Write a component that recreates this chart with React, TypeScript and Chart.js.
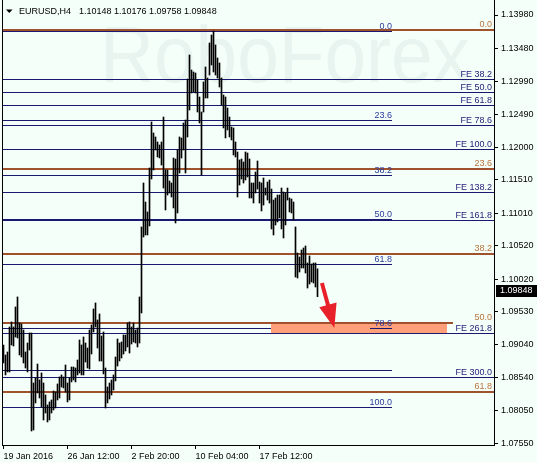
import React, { useEffect, useRef } from 'react';
import { Chart, registerables } from 'chart.js';

Chart.register(...registerables);

// ---------- data ----------
const symbolLabel = 'EURUSD,H4';
const lastOpen = 1.10148;
const lastHigh = 1.10176;
const lastLow = 1.09758;
const lastClose = 1.09848;

const barHighs = [
  1.09034, 1.08884, 1.08929, 1.09304, 1.09379, 1.09304, 1.09604, 1.09754, 1.09364, 1.09349,
  1.09259, 1.08929, 1.09064, 1.09214, 1.09214, 1.08465, 1.0854, 1.08749, 1.0851, 1.08615,
  1.08465, 1.08285, 1.08135, 1.0818, 1.0821, 1.08345, 1.0833, 1.0845, 1.08555, 1.08585,
  1.08555, 1.08734, 1.08465, 1.0854, 1.08704, 1.08704, 1.08689, 1.08809, 1.09109, 1.09034,
  1.09154, 1.09064, 1.08989, 1.09259, 1.09334, 1.09574, 1.09664, 1.09409, 1.09499, 1.09169,
  1.09229, 1.08689, 1.08405, 1.08465, 1.0851, 1.08585, 1.08854, 1.09124, 1.09064, 1.09079,
  1.09184, 1.09184, 1.09364, 1.09379, 1.09304, 1.09364, 1.09259, 1.09289, 1.09754, 1.10803,
  1.11462, 1.11177, 1.11028, 1.11687, 1.12377, 1.12212, 1.12152, 1.12077, 1.12032, 1.12077,
  1.12451, 1.11657, 1.11657, 1.11492, 1.11462, 1.11837, 1.11822, 1.11957, 1.12152, 1.12137,
  1.12362, 1.12406, 1.13021, 1.13381, 1.13156, 1.13126, 1.13111, 1.13006, 1.12751, 1.12526,
  1.12976, 1.13201, 1.13036, 1.13561, 1.1368, 1.1374, 1.13531, 1.13336, 1.13261, 1.13036,
  1.12781, 1.12751, 1.12586, 1.12451, 1.12302, 1.12287, 1.12077, 1.11927, 1.11807, 1.11822,
  1.11777, 1.11927, 1.11912, 1.11822, 1.11462, 1.11462, 1.11627, 1.11792, 1.11477, 1.11462,
  1.11537, 1.11387, 1.11477, 1.11507, 1.11372, 1.11207, 1.11237, 1.11282, 1.11282, 1.11387,
  1.11327, 1.11312, 1.11387, 1.11237, 1.11222, 1.11177, 1.10803, 1.10413, 1.10353, 1.10458,
  1.10488, 1.10518, 1.10263, 1.10368, 1.10248, 1.10263, 1.10263, lastHigh,
];

const barLows = [
  1.08764, 1.08585, 1.0863, 1.0863, 1.09034, 1.09019, 1.09154, 1.09139, 1.08884, 1.08854,
  1.08764, 1.08689, 1.0863, 1.08959, 1.07745, 1.0776, 1.08165, 1.08315, 1.0824, 1.08105,
  1.0791, 1.08015, 1.0788, 1.0791, 1.08015, 1.0806, 1.0809, 1.0821, 1.0824, 1.08405,
  1.0839, 1.0833, 1.0818, 1.0821, 1.0848, 1.0851, 1.0848, 1.08585, 1.08615, 1.08585,
  1.08585, 1.08779, 1.08689, 1.08674, 1.08899, 1.09229, 1.09304, 1.08989, 1.08794, 1.08794,
  1.086, 1.0809, 1.08165, 1.08225, 1.08285, 1.0836, 1.08495, 1.08719, 1.08794, 1.08839,
  1.08899, 1.08944, 1.09004, 1.08914, 1.09049, 1.09079, 1.09064, 1.09004, 1.09064, 1.09514,
  1.10653, 1.10683, 1.10683, 1.10818, 1.11522, 1.11657, 1.11957, 1.11852, 1.11837, 1.11732,
  1.11387, 1.11058, 1.11282, 1.11312, 1.11252, 1.11088, 1.10863, 1.11013, 1.11612, 1.11837,
  1.11957, 1.11612, 1.12152, 1.12556, 1.12811, 1.12826, 1.12811, 1.12526, 1.12362, 1.11582,
  1.12526, 1.12736, 1.12736, 1.13081, 1.13231, 1.13126, 1.13081, 1.13036, 1.12901, 1.12631,
  1.12287, 1.12137, 1.12257, 1.12152, 1.12107, 1.11882, 1.11852, 1.11252, 1.11432, 1.11522,
  1.11462, 1.11507, 1.11552, 1.11237, 1.11237, 1.11162, 1.11312, 1.11372, 1.11162, 1.11043,
  1.11132, 1.11282, 1.11207, 1.11162, 1.10773, 1.10683, 1.10833, 1.10878, 1.10938, 1.10773,
  1.10638, 1.10833, 1.11207, 1.11028, 1.11013, 1.10908, 1.10053, 1.10038, 1.10128, 1.10188,
  1.10188, 1.10113, 1.09888, 1.09948, 1.09978, 1.09963, 1.09903, lastLow,
];

const dateTickIndex = [0, 32, 64, 96, 128];
const dateTickLabels = ['19 Jan 2016', '26 Jan 12:00', '2 Feb 20:00', '10 Feb 04:00', '17 Feb 12:00'];

const priceTicks = [
  1.1398, 1.1348, 1.1299, 1.1249, 1.12, 1.1151, 1.1101, 1.1052, 1.1002,
  1.0953, 1.0904, 1.0854, 1.0805, 1.0755,
];
const priceAxisMin = 1.07535;
const priceAxisMax = 1.14205;

// blue Fibonacci retracement
const blueFibLabels = ['0.0', '23.6', '38.2', '50.0', '61.8', '78.6', '100.0', ''];
const blueFibPrices = [1.13733, 1.12406, 1.11578, 1.10922, 1.10244, 1.09281, 1.0809, 1.08645];

// brown Fibonacci retracement
const brownFibLabels = ['0.0', '23.6', '38.2', '50.0', '61.8'];
const brownFibPrices = [1.13755, 1.11672, 1.10398, 1.09364, 1.0833];

// Fibonacci expansion
const feLabels = ['FE 38.2', 'FE 50.0', 'FE 61.8', 'FE 78.6', 'FE 100.0', 'FE 138.2', 'FE 161.8', 'FE 261.8', 'FE 300.0'];
const fePrices = [1.13016, 1.12822, 1.12631, 1.12327, 1.11967, 1.11323, 1.10907, 1.09209, 1.0855];

// target zone and arrow
const zonePriceTop = 1.09354;
const zonePriceBottom = 1.09209;
const zoneIndexStart = 133.75;
const zoneIndexEnd = 221.75;
const arrowFrom = { index: 159.2, price: 1.09963 };
const arrowTo = { index: 165.4, price: 1.09289 };

const watermarkText = 'RoboForex';

// ---------- styles ----------
const BG = '#F5FFFA';
const FONT = '"Liberation Sans", Arial, sans-serif';
const NAVY = '#191970';
const BROWN = '#A0522D';
const BROWN_TEXT = '#B8743C';
const BLUE_TEXT = '#2A3A9A';
const FE_TEXT = '#28207A';
const BLUE_END_INDEX = 194.25;
const BROWN50_END_INDEX = 224.75;

export default function App() {
  const ref = useRef<HTMLCanvasElement>(null);

  useEffect(() => {
    const canvas = ref.current;
    if (!canvas) return;

    const overlay = {
      id: 'overlay',
      beforeDraw(chart: any) {
        const ctx = chart.ctx;
        ctx.save();
        ctx.fillStyle = BG;
        ctx.fillRect(0, 0, chart.width, chart.height);
        ctx.restore();
      },
      beforeDatasetsDraw(chart: any) {
        const { ctx, chartArea: ca } = chart;
        const xs = chart.scales.x;
        const ys = chart.scales.y;
        ctx.save();
        ctx.beginPath();
        ctx.rect(ca.left, ca.top, ca.right - ca.left, ca.bottom - ca.top);
        ctx.clip();

        // watermark
        ctx.fillStyle = 'rgba(190,212,212,0.25)';
        ctx.font = `80px ${FONT}`;
        const ww = ctx.measureText(watermarkText).width;
        ctx.save();
        ctx.translate(100, 82);
        ctx.scale(370 / ww, 1);
        ctx.textBaseline = 'alphabetic';
        ctx.fillText(watermarkText, 0, 0);
        ctx.restore();

        const hline = (price: number, x0: number, x1: number, color: string, width: number) => {
          const py = ys.getPixelForValue(price);
          const yy = width === 1 ? Math.floor(py) + 0.5 : Math.round(py);
          ctx.strokeStyle = color;
          ctx.lineWidth = width;
          ctx.beginPath();
          ctx.moveTo(x0, yy);
          ctx.lineTo(x1, yy);
          ctx.stroke();
        };

        const xBlueEnd = xs.getPixelForValue(BLUE_END_INDEX);
        // blue retracement lines
        blueFibPrices.forEach((p) => hline(p, ca.left, xBlueEnd, NAVY, 1));

        // target zone
        const zx0 = xs.getPixelForValue(zoneIndexStart);
        const zx1 = xs.getPixelForValue(zoneIndexEnd);
        const zy0 = ys.getPixelForValue(zonePriceTop);
        const zy1 = ys.getPixelForValue(zonePriceBottom);
        ctx.fillStyle = '#FFA07A';
        ctx.fillRect(Math.round(zx0), Math.round(zy0), Math.round(zx1) - Math.round(zx0), Math.round(zy1) - Math.round(zy0));

        // FE lines
        fePrices.forEach((p) => hline(p, ca.left, ca.right, NAVY, 1));

        // brown lines
        brownFibPrices.forEach((p, i) => {
          const end = brownFibLabels[i] === '50.0' ? xs.getPixelForValue(BROWN50_END_INDEX) : ca.right;
          hline(p, ca.left, end, BROWN, 2);
        });

        // labels
        ctx.font = `9px ${FONT}`;
        ctx.textBaseline = 'alphabetic';
        ctx.textAlign = 'right';
        feLabels.forEach((l, i) => {
          const py = ys.getPixelForValue(fePrices[i]);
          ctx.fillStyle = FE_TEXT;
          ctx.fillText(l, ca.right - 2, Math.floor(py) - 2);
        });
        brownFibLabels.forEach((l, i) => {
          const py = ys.getPixelForValue(brownFibPrices[i]);
          ctx.fillStyle = BROWN_TEXT;
          ctx.fillText(l, ca.right - 2, Math.round(py) - 3);
        });
        blueFibLabels.forEach((l, i) => {
          if (!l) return;
          const py = ys.getPixelForValue(blueFibPrices[i]);
          ctx.fillStyle = BLUE_TEXT;
          ctx.fillText(l, xBlueEnd, Math.floor(py) - 2);
          if (l === '78.6') {
            const yy = Math.floor(py) + 0.5;
            ctx.strokeStyle = NAVY;
            ctx.lineWidth = 1;
            ctx.beginPath();
            ctx.moveTo(xBlueEnd - 22, yy);
            ctx.lineTo(xBlueEnd, yy);
            ctx.stroke();
          }
        });
        ctx.restore();
      },
      afterDatasetsDraw(chart: any) {
        const { ctx, chartArea: ca } = chart;
        const xs = chart.scales.x;
        const ys = chart.scales.y;
        ctx.save();

        // arrow
        const ax0 = xs.getPixelForValue(arrowFrom.index);
        const ay0 = ys.getPixelForValue(arrowFrom.price);
        const ax1 = xs.getPixelForValue(arrowTo.index);
        const ay1 = ys.getPixelForValue(arrowTo.price);
        const dx = ax1 - ax0;
        const dy = ay1 - ay0;
        const len = Math.sqrt(dx * dx + dy * dy);
        const ux = dx / len;
        const uy = dy / len;
        const headLen = 24;
        const headHalf = 9;
        const bx = ax1 - ux * headLen;
        const by = ay1 - uy * headLen;
        ctx.strokeStyle = '#E8202A';
        ctx.fillStyle = '#E8202A';
        ctx.lineWidth = 4;
        ctx.beginPath();
        ctx.moveTo(ax0, ay0);
        ctx.lineTo(bx + ux * 2, by + uy * 2);
        ctx.stroke();
        ctx.beginPath();
        ctx.moveTo(ax1, ay1);
        ctx.lineTo(bx - uy * headHalf, by + ux * headHalf);
        ctx.lineTo(bx + uy * headHalf, by - ux * headHalf);
        ctx.closePath();
        ctx.fill();

        // left frame
        ctx.strokeStyle = '#000';
        ctx.lineWidth = 1;
        ctx.beginPath();
        ctx.moveTo(ca.left - 0.5, 0);
        ctx.lineTo(ca.left - 0.5, ca.bottom + 1);
        ctx.stroke();

        // current price box
        const py = Math.round(ys.getPixelForValue(lastClose));
        ctx.fillStyle = '#000';
        ctx.fillRect(ca.right + 2, py - 6, chart.width - ca.right - 2, 12);
        ctx.fillStyle = '#FFF';
        ctx.font = `9px ${FONT}`;
        ctx.textAlign = 'left';
        ctx.textBaseline = 'middle';
        ctx.fillText(lastClose.toFixed(5), ca.right + 6, py);

        // header
        ctx.fillStyle = '#000';
        ctx.beginPath();
        ctx.moveTo(6, 9.5);
        ctx.lineTo(12.5, 9.5);
        ctx.lineTo(9.25, 13);
        ctx.closePath();
        ctx.fill();
        ctx.textBaseline = 'alphabetic';
        ctx.textAlign = 'left';
        ctx.fillText(symbolLabel, 19, 14);
        ctx.fillText(
          [lastOpen, lastHigh, lastLow, lastClose].map((v) => v.toFixed(5)).join(' '),
          79,
          14,
        );
        ctx.restore();
      },
    };

    const chart = new Chart(canvas, {
      type: 'bar',
      data: {
        datasets: [
          {
            data: barHighs.map((h, i) => ({ x: i, y: [barLows[i], h] })) as any,
            backgroundColor: '#000',
            borderWidth: 0,
            barThickness: 1,
            grouped: false,
          } as any,
        ],
      },
      options: {
        responsive: false,
        animation: false,
        devicePixelRatio: 1,
        layout: { padding: { left: 3, top: 0, right: 0, bottom: 0 } },
        plugins: { legend: { display: false }, tooltip: { enabled: false } },
        scales: {
          x: {
            type: 'linear',
            position: 'bottom',
            min: -0.25,
            max: 245.25,
            offset: false,
            grid: { display: true, drawOnChartArea: false, drawTicks: true, tickLength: 4, color: '#000', offset: false },
            border: { display: true, color: '#000', width: 1 },
            ticks: {
              autoSkip: false,
              maxRotation: 0,
              minRotation: 0,
              align: 'start',
              padding: 2,
              color: '#000',
              font: { family: FONT, size: 9 },
              callback: (v: any) => {
                const idx = dateTickIndex.indexOf(Number(v));
                return idx >= 0 ? dateTickLabels[idx] : '';
              },
            },
            afterBuildTicks: (s: any) => {
              s.ticks = dateTickIndex.map((v) => ({ value: v }));
            },
            afterFit: (s: any) => {
              s.height = 17;
              s.paddingLeft = 0;
              s.paddingRight = 0;
            },
          } as any,
          y: {
            type: 'linear',
            position: 'right',
            min: priceAxisMin,
            max: priceAxisMax,
            bounds: 'data',
            grid: { display: true, drawOnChartArea: false, drawTicks: true, tickLength: 4, color: '#000' },
            border: { display: true, color: '#000', width: 1 },
            ticks: {
              autoSkip: false,
              padding: 3,
              color: '#000',
              font: { family: FONT, size: 9 },
              callback: (v: any) => Number(v).toFixed(5),
            },
            afterBuildTicks: (s: any) => {
              s.ticks = priceTicks.map((v) => ({ value: v }));
            },
            afterFit: (s: any) => {
              s.width = 43;
              s.paddingTop = 0;
              s.paddingBottom = 0;
            },
          } as any,
        },
      },
      plugins: [overlay],
    });

    return () => chart.destroy();
  }, []);

  return (
    <div style={{ position: 'absolute', left: 0, top: 0, width: 537, height: 462 }}>
      <canvas ref={ref} width={537} height={462} style={{ display: 'block', width: 537, height: 462 }} />
    </div>
  );
}
